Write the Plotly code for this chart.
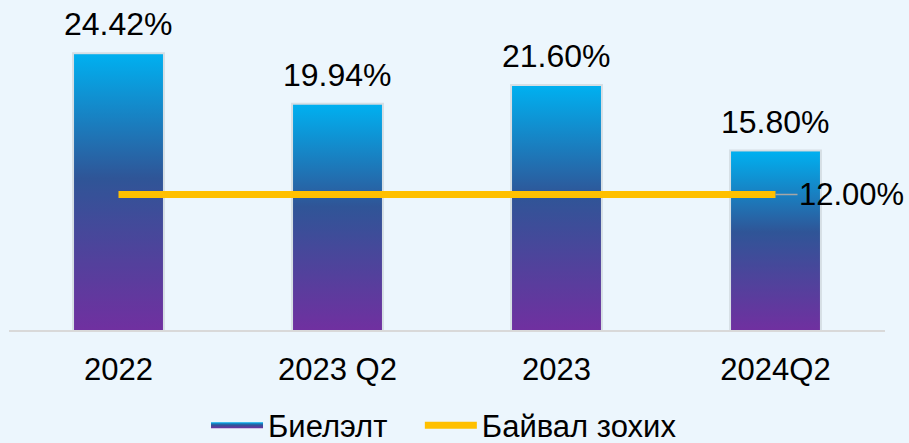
import plotly.graph_objects as go

categories = ["2022", "2023 Q2", "2023", "2024Q2"]
actual = [24.42, 19.94, 21.60, 15.80]
target = [12.00, 12.00, 12.00, 12.00]
series_names = ["Биелэлт", "Байвал зохих"]

FONT = "Liberation Sans, Arial, sans-serif"
bar_half = 0.203
grad = [[0.0, "#7030A0"], [0.55, "#2F5597"], [1.0, "#00B0F0"]]

fig = go.Figure()
idx = list(range(len(categories)))

# soft shadows behind bars
for i, v in zip(idx, actual):
    fig.add_trace(go.Scatter(
        x=[i - bar_half, i - bar_half, i + bar_half, i + bar_half, i - bar_half],
        y=[0, v, v, 0, 0], mode="lines", fill="toself",
        fillcolor="rgba(0,0,0,0.10)", line=dict(color="rgba(60,60,60,0.12)", width=4),
        showlegend=False, hoverinfo="skip"))

# gradient bars
for k, (i, v) in enumerate(zip(idx, actual)):
    fig.add_trace(go.Scatter(
        x=[i - bar_half, i - bar_half, i + bar_half, i + bar_half, i - bar_half],
        y=[0, v, v, 0, 0], mode="none", fill="toself",
        fillcolor="#2F5597",
        fillgradient=dict(type="vertical", colorscale=grad),
        name=series_names[0], legend="legend", showlegend=(k == 0),
        hovertemplate=f"{categories[k]}: {v:.2f}%<extra></extra>"))

fig.add_trace(go.Scatter(
    x=idx, y=target, mode="lines", name=series_names[1], legend="legend2",
    line=dict(color="#FFC000", width=7)))

for i, v in zip(idx, actual):
    fig.add_annotation(x=i, y=v, text=f"{v:.2f}%", showarrow=False,
                       yanchor="bottom", yshift=10,
                       font=dict(size=32, color="#000000", family=FONT))

fig.add_annotation(x=idx[-1], y=target[-1], text=f"{target[-1]:.2f}%",
                   showarrow=True, arrowhead=0, arrowwidth=1.5, arrowcolor="#A6A6A6",
                   ax=76, ay=0, standoff=0,
                   font=dict(size=31, color="#000000", family=FONT))

legend_style = dict(orientation="h", y=-0.225, yanchor="top", xanchor="left",
                    font=dict(size=31, family=FONT, color="#000000"),
                    bgcolor="rgba(0,0,0,0)", itemwidth=52)

fig.update_layout(
    width=909, height=443,
    margin=dict(l=9, r=24, t=25, b=113, autoexpand=False),
    paper_bgcolor="#ECF6FD", plot_bgcolor="rgba(0,0,0,0)",
    font=dict(family=FONT, color="#000000"),
    xaxis=dict(range=[-0.5, 3.5], tickvals=idx, ticktext=categories,
               showgrid=False, zeroline=False, showline=True,
               linecolor="#D9D9D9", linewidth=2,
               ticks="outside", ticklen=11, tickcolor="rgba(0,0,0,0)",
               tickfont=dict(size=31, family=FONT, color="#000000")),
    yaxis=dict(range=[0, 27], visible=False, showgrid=False, zeroline=False),
    legend=dict(x=0.2249, **legend_style),
    legend2=dict(x=0.469, **legend_style),
    showlegend=True,
)

fig.write_html("out.html", config={"displayModeBar": False},
               post_script="document.body.style.margin='0';document.body.style.overflow='hidden';")
